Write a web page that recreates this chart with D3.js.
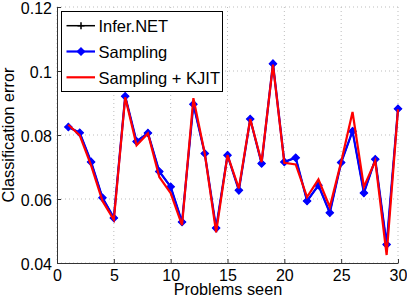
<!DOCTYPE html>
<html>
<head>
<meta charset="utf-8">
<script src="https://cdn.jsdelivr.net/npm/d3@7"></script>
<style>
  body { margin: 0; background: #fff; }
  text { font-family: "Liberation Sans", Arial, sans-serif; fill: #000; }
</style>
</head>
<body>
<div class="canvas"></div>
<script>
// data
const problems = d3.range(1, 31);
const inferNet = [0.0825, 0.0807, 0.0716, 0.0604, 0.0541, 0.0921, 0.0780, 0.0806, 0.0686, 0.0638,
                  0.0528, 0.0896, 0.0742, 0.0509, 0.0737, 0.0627, 0.0850, 0.0711, 0.1023, 0.0716,
                  0.0729, 0.0594, 0.0643, 0.0557, 0.0714, 0.0812, 0.0619, 0.0724, 0.0458, 0.0882];
const sampling = [0.0825, 0.0807, 0.0716, 0.0604, 0.0541, 0.0921, 0.0780, 0.0806, 0.0686, 0.0638,
                  0.0528, 0.0896, 0.0742, 0.0509, 0.0737, 0.0627, 0.0850, 0.0711, 0.1023, 0.0716,
                  0.0729, 0.0594, 0.0643, 0.0557, 0.0714, 0.0812, 0.0619, 0.0724, 0.0458, 0.0882];
const kjit = [0.0832, 0.0799, 0.0705, 0.0594, 0.0535, 0.0918, 0.0768, 0.0805, 0.0669, 0.0618,
              0.0518, 0.0915, 0.0742, 0.0496, 0.0737, 0.0633, 0.0850, 0.0715, 0.1020, 0.0713,
              0.0708, 0.0606, 0.0661, 0.0575, 0.0716, 0.0872, 0.0638, 0.0719, 0.0425, 0.0880];
const xTicks = [0, 5, 10, 15, 20, 25, 30];
const yTicks = [0.04, 0.06, 0.08, 0.1, 0.12];
const seriesNames = ["Infer.NET", "Sampling", "Sampling + KJIT"];

const svg = d3.select(".canvas").append("svg")
    .attr("width", 407)
    .attr("height", 298);

//margins and dimensions
const margin = {top: 7, right: 9, bottom: 35, left: 57};
const graphWidth = 407 - margin.left - margin.right;
const graphHeight = 298 - margin.top - margin.bottom;

const graph = svg.append("g")
    .attr("transform", `translate(${margin.left}, ${margin.top})`);

const scaleX = d3.scaleLinear().domain([0, 30]).range([0, graphWidth]);
const scaleY = d3.scaleLinear().domain([0.04, 0.12]).range([graphHeight, 0]);

//dotted grid
graph.append("g").selectAll("line")
  .data(xTicks)
  .join("line")
    .attr("x1", d => scaleX(d)).attr("x2", d => scaleX(d))
    .attr("y1", 0).attr("y2", graphHeight)
    .attr("stroke", "#bdbdbd").attr("stroke-width", 1)
    .attr("stroke-dasharray", "1,3");
graph.append("g").selectAll("line")
  .data(yTicks)
  .join("line")
    .attr("x1", 0).attr("x2", graphWidth)
    .attr("y1", d => scaleY(d)).attr("y2", d => scaleY(d))
    .attr("stroke", "#bdbdbd").attr("stroke-width", 1)
    .attr("stroke-dasharray", "1,3");

//axes, ticks pointing inside
const xAxis = d3.axisBottom(scaleX).tickValues(xTicks).tickSizeInner(-4).tickSizeOuter(0)
    .tickPadding(9).tickFormat(d3.format("d"));
const yAxis = d3.axisLeft(scaleY).tickValues(yTicks).tickSizeInner(-4).tickSizeOuter(0)
    .tickPadding(9).tickFormat(d => d === 0.1 ? "0.1" : d3.format(".2f")(d));

const xAxisGroup = graph.append("g")
    .attr("transform", `translate(0, ${graphHeight})`)
    .call(xAxis);
const yAxisGroup = graph.append("g")
    .call(yAxis);

[xAxisGroup, yAxisGroup].forEach(g => {
  g.select(".domain").attr("stroke", "#333").attr("stroke-width", 1);
  g.selectAll(".tick line").attr("stroke", "#333");
  g.selectAll(".tick text").attr("font-size", 16).attr("fill", "#000")
    .style("font-family", "'Liberation Sans', Arial, sans-serif");
});
xAxisGroup.selectAll(".tick text").attr("dy", null).attr("y", 17.5);
yAxisGroup.selectAll(".tick text").attr("dy", null).attr("y", 6).attr("x", -5);

//axis labels
svg.append("text")
    .attr("x", margin.left + graphWidth / 2 + 0.5)
    .attr("y", 295)
    .attr("text-anchor", "middle")
    .attr("font-size", 16.3)
    .text("Problems seen");
svg.append("text")
    .attr("transform", `translate(14, ${margin.top + graphHeight / 2}) rotate(-90)`)
    .attr("text-anchor", "middle")
    .attr("font-size", 16.3)
    .text("Classification error");

//series
const line = d3.line().x((d, i) => scaleX(problems[i])).y(d => scaleY(d));

function plusPath(s) { return `M${-s},0H${s}M0,${-s}V${s}`; }
function diamondPath(s) { return `M0,${-s}L${s},0L0,${s}L${-s},0Z`; }

graph.append("path").datum(inferNet)
    .attr("d", line).attr("fill", "none").attr("stroke", "#000").attr("stroke-width", 1.5);
graph.append("g").selectAll("path")
  .data(inferNet).join("path")
    .attr("transform", (d, i) => `translate(${scaleX(problems[i])}, ${scaleY(d)})`)
    .attr("d", plusPath(3.5)).attr("stroke", "#000").attr("stroke-width", 1.5);

graph.append("path").datum(sampling)
    .attr("d", line).attr("fill", "none").attr("stroke", "#0000ff").attr("stroke-width", 2.2);
graph.append("g").selectAll("path")
  .data(sampling).join("path")
    .attr("transform", (d, i) => `translate(${scaleX(problems[i])}, ${scaleY(d)})`)
    .attr("d", diamondPath(3.6)).attr("fill", "#0000ff").attr("stroke", "#0000ff").attr("stroke-width", 1.3);

graph.append("path").datum(kjit)
    .attr("d", line).attr("fill", "none").attr("stroke", "#ff0000").attr("stroke-width", 2.2);

//legend
const legend = svg.append("g");
legend.append("rect")
    .attr("x", 61.5).attr("y", 11.5).attr("width", 161).attr("height", 80)
    .attr("fill", "#fff").attr("stroke", "#000").attr("stroke-width", 1);

const legendY = [25.7, 51.5, 77.3];
const colors = ["#000", "#0000ff", "#ff0000"];
const widths = [1.5, 2.2, 2.2];

seriesNames.forEach((name, i) => {
  legend.append("line")
    .attr("x1", 66.5).attr("x2", 95).attr("y1", legendY[i]).attr("y2", legendY[i])
    .attr("stroke", colors[i]).attr("stroke-width", widths[i]);
  if (i === 0) {
    legend.append("path").attr("transform", `translate(81, ${legendY[i]})`)
      .attr("d", plusPath(3.5)).attr("stroke", "#000").attr("stroke-width", 1.5);
  }
  if (i === 1) {
    legend.append("path").attr("transform", `translate(81, ${legendY[i]})`)
      .attr("d", diamondPath(3.6)).attr("fill", "#0000ff").attr("stroke", "#0000ff").attr("stroke-width", 1.3);
  }
  legend.append("text")
    .attr("x", 98.5).attr("y", legendY[i] + 6.3)
    .attr("font-size", 16.5)
    .text(name);
});
</script>
</body>
</html>
